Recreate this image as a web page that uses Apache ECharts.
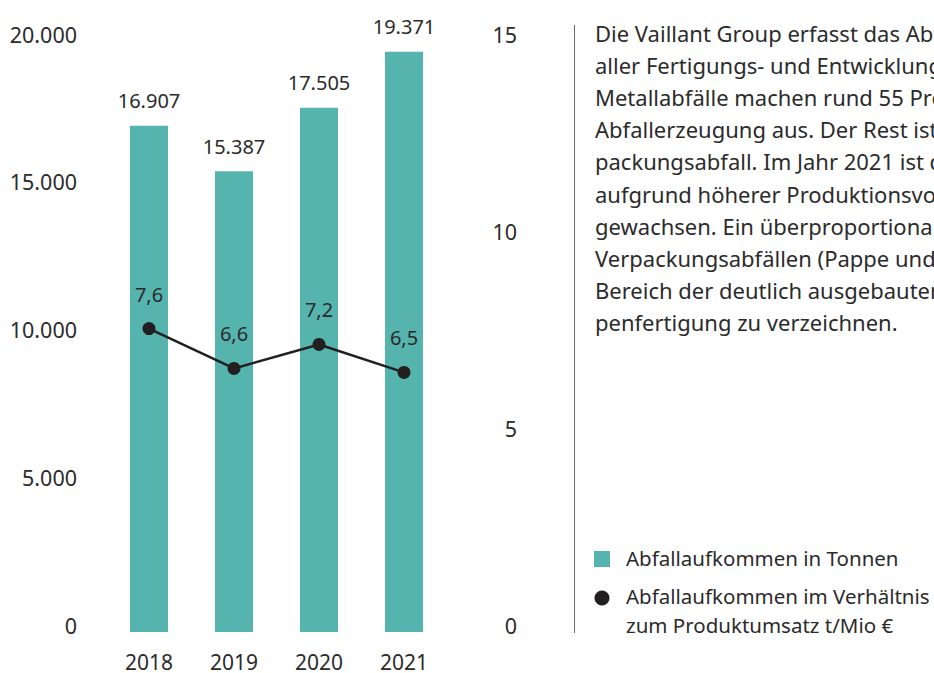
<!DOCTYPE html>
<html>
<head>
<meta charset="utf-8">
<script src="https://cdn.jsdelivr.net/npm/echarts@6/dist/echarts.min.js"></script>
<style>
    html, body {margin: 0; padding: 0; background: #fff;}
    #chart {width: 934px; height: 673px;}
</style>
</head>
<body>
<div id="chart"></div>
<script>
// Daten
var years = ['2018', '2019', '2020', '2021'];
var tonnen = [16907, 15387, 17505, 19371];
var verhaeltnis = [7.6, 6.6, 7.2, 6.5];

// Fließtext (läuft im Original rechts über den Bildrand hinaus)
var textZeilen = [
    'Die Vaillant Group erfasst das Abfallaufkommen',
    'aller Fertigungs- und Entwicklungsstandorte.',
    'Metallabfälle machen rund 55 Prozent der gesamten',
    'Abfallerzeugung aus. Der Rest ist überwiegend Ver-',
    'packungsabfall. Im Jahr 2021 ist das Abfallaufkommen',
    'aufgrund höherer Produktionsvolumina',
    'gewachsen. Ein überproportionaler Anstieg ist bei',
    'Verpackungsabfällen (Pappe und Holz) im',
    'Bereich der deutlich ausgebauten Wärmepum-',
    'penfertigung zu verzeichnen.'
];

var FONT = 'Noto Sans';
var TXT = '#2b2b2b';
var TEAL = '#56b4ae';

var chart = echarts.init(document.getElementById('chart'), null, {renderer: 'svg'});

var fmtDe = function (v) {
    return String(v).replace(/\B(?=(\d{3})+(?!\d))/g, '.');
};

// Fließtext rechts
var graphics = textZeilen.map(function (z, i) {
    return {
        type: 'text',
        left: 595,
        top: 22 + i * 32.1,
        style: {text: z, font: '22px "' + FONT + '"', fill: TXT}
    };
});
// Trennlinie
graphics.push({
    type: 'line',
    shape: {x1: 574.5, y1: 25, x2: 574.5, y2: 633},
    style: {stroke: '#6b6b6b', lineWidth: 1}
});
// Legende
graphics.push(
    {type: 'rect', shape: {x: 594, y: 551, width: 16, height: 16}, style: {fill: TEAL}},
    {type: 'text', left: 626, top: 547, style: {text: 'Abfallaufkommen in Tonnen', font: '20.5px "' + FONT + '"', fill: TXT}},
    {type: 'circle', shape: {cx: 602, cy: 598, r: 7.5}, style: {fill: '#231f20'}},
    {type: 'text', left: 626, top: 585, style: {text: 'Abfallaufkommen im Verhältnis', font: '20.5px "' + FONT + '"', fill: TXT}},
    {type: 'text', left: 626, top: 614, style: {text: 'zum Produktumsatz t/Mio €', font: '20.5px "' + FONT + '"', fill: TXT}}
);

var labelStyle = {fontFamily: FONT, fontSize: 20, color: TXT};
var axisStyle = {fontFamily: FONT, fontSize: 21.5, color: TXT};

chart.setOption({
    animation: false,
    textStyle: {fontFamily: FONT},
    grid: [
        {left: 106.5, right: 487.5, top: 33, bottom: 41},
        // nur für die Achsenbeschriftung
        {left: 106.5, right: 487.5, top: 34, bottom: 48}
    ],
    xAxis: [
        {
            type: 'category',
            gridIndex: 0,
            data: years,
            axisLine: {show: false},
            axisTick: {show: false},
            axisLabel: Object.assign({margin: 19}, axisStyle, {fontSize: 21})
        },
        {type: 'category', gridIndex: 1, data: years, show: false}
    ],
    yAxis: [
        {type: 'value', gridIndex: 0, min: 0, max: 20000, interval: 5000, show: false},
        {type: 'value', gridIndex: 0, min: 0, max: 15, interval: 5, position: 'right', show: false},
        {
            type: 'value',
            gridIndex: 1,
            min: 0,
            max: 20000,
            interval: 5000,
            axisLine: {show: false},
            axisTick: {show: false},
            splitLine: {show: false},
            axisLabel: Object.assign({margin: 29.5, formatter: fmtDe}, axisStyle)
        },
        {
            type: 'value',
            gridIndex: 1,
            position: 'right',
            min: 0,
            max: 15,
            interval: 5,
            axisLine: {show: false},
            axisTick: {show: false},
            splitLine: {show: false},
            axisLabel: Object.assign({margin: 70.5, align: 'right'}, axisStyle)
        }
    ],
    series: [
        {
            name: 'Abfallaufkommen in Tonnen',
            type: 'bar',
            xAxisIndex: 0,
            yAxisIndex: 0,
            data: tonnen,
            barWidth: 38,
            itemStyle: {color: TEAL},
            label: Object.assign({
                show: true,
                position: 'top',
                distance: 15,
                formatter: function (p) { return fmtDe(p.value); }
            }, labelStyle)
        },
        {
            name: 'Abfallaufkommen im Verhältnis zum Produktumsatz t/Mio €',
            type: 'line',
            xAxisIndex: 0,
            yAxisIndex: 1,
            data: verhaeltnis,
            symbol: 'circle',
            symbolSize: 13,
            lineStyle: {color: '#231f20', width: 2.5},
            itemStyle: {color: '#231f20'},
            z: 5,
            label: Object.assign({
                show: true,
                position: 'top',
                distance: 18,
                formatter: function (p) { return String(p.value).replace('.', ','); }
            }, labelStyle)
        }
    ],
    graphic: graphics
});
</script>
</body>
</html>
